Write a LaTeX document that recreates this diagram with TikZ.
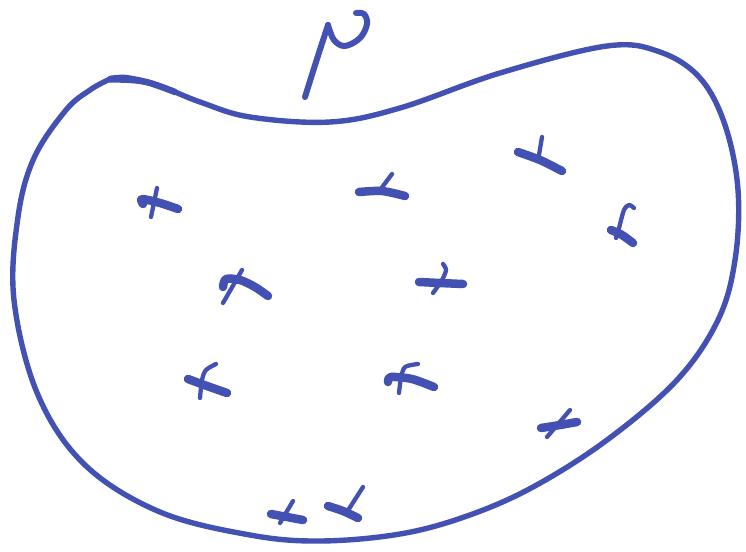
\documentclass[tikz,border=0pt]{standalone}
\definecolor{ink}{RGB}{67,81,178}
\begin{document}
\begin{tikzpicture}[x=1pt,y=-1pt,
  blob/.style={draw=ink,line width=5.4pt,line cap=round,line join=round},
  heavy/.style={draw=ink,line width=8.5pt,line cap=round,line join=round},
  light/.style={draw=ink,line width=4.3pt,line cap=round,line join=round},
  letter/.style={draw=ink,line width=6pt,line cap=round,line join=round}]
\useasboundingbox (0,0) rectangle (746,551);
% outline
\draw[blob] plot[smooth,tension=0.6] coordinates {(108,80) (150,83) (200,102) (250,117) (330,122) (400,108) (500,73) (607,46) (660,52) (700,78) (725,125) (738,190) (735,260) (718,320) (677,380) (607,440) (533,487) (467,516) (400,534) (320,541) (250,535) (160,512) (85,465) (38,395) (14,300) (18,217) (34,158) (66,110) (90,90) (108,80)};
\draw[draw=ink,line width=6.5pt,line cap=round] plot[smooth] coordinates {(110,79) (125,78) (150,83) (175,92)};
% nu label
\draw[letter] plot[smooth,tension=0.5] coordinates {(305,97) (316,62) (328,25)};
\draw[letter] plot[smooth,tension=0.6] coordinates {(328,25) (334,40) (345,46) (360,38) (367,24) (364,14) (356,13)};
% crosses
% 1
\draw[heavy] plot[smooth] coordinates {(143,204) (142,199) (160,203) (178,209)};
\draw[light] (157,188) -- (151,217);
% 2
\draw[heavy] plot[smooth] coordinates {(359,192) (382,191) (405,196)};
\draw[light] (392,174) -- (380,190);
% 3
\draw[heavy] plot[smooth] coordinates {(518,152) (540,160) (562,171)};
\draw[light] (542,137) -- (539,155);
% 4
\draw[light] plot[smooth] coordinates {(634,208) (629,205) (624,210) (619,228) (616,238)};
\draw[heavy] plot[smooth] coordinates {(611,230) (622,235) (633,243)};
% 5
\draw[heavy] plot[smooth] coordinates {(223,287) (226,279) (240,280) (255,287) (268,296)};
\draw[light] (242,270) -- (223,303);
% 6
\draw[heavy] plot[smooth] coordinates {(419,282) (440,283) (463,284)};
\draw[light] plot[smooth] coordinates {(443,264) (446,270) (442,280) (433,293)};
% 7
\draw[heavy] plot[smooth] coordinates {(188,379) (207,386) (227,393)};
\draw[light] plot[smooth] coordinates {(216,364) (206,370) (202,380) (200,398)};
% 8
\draw[heavy] plot[smooth] coordinates {(388,382) (391,377) (412,379) (434,387)};
\draw[light] plot[smooth] coordinates {(418,364) (405,367) (401,378) (399,393)};
% 9
\draw[heavy] plot[smooth] coordinates {(541,428) (560,425) (577,422)};
\draw[light] (570,410) -- (547,437);
% 10
\draw[heavy] plot[smooth] coordinates {(271,514) (287,517) (303,520)};
\draw[light] (293,501) -- (280,523);
% 11
\draw[heavy] plot[smooth] coordinates {(328,506) (343,511) (358,518)};
\draw[light] (363,487) -- (347,512);
\end{tikzpicture}
\end{document}
